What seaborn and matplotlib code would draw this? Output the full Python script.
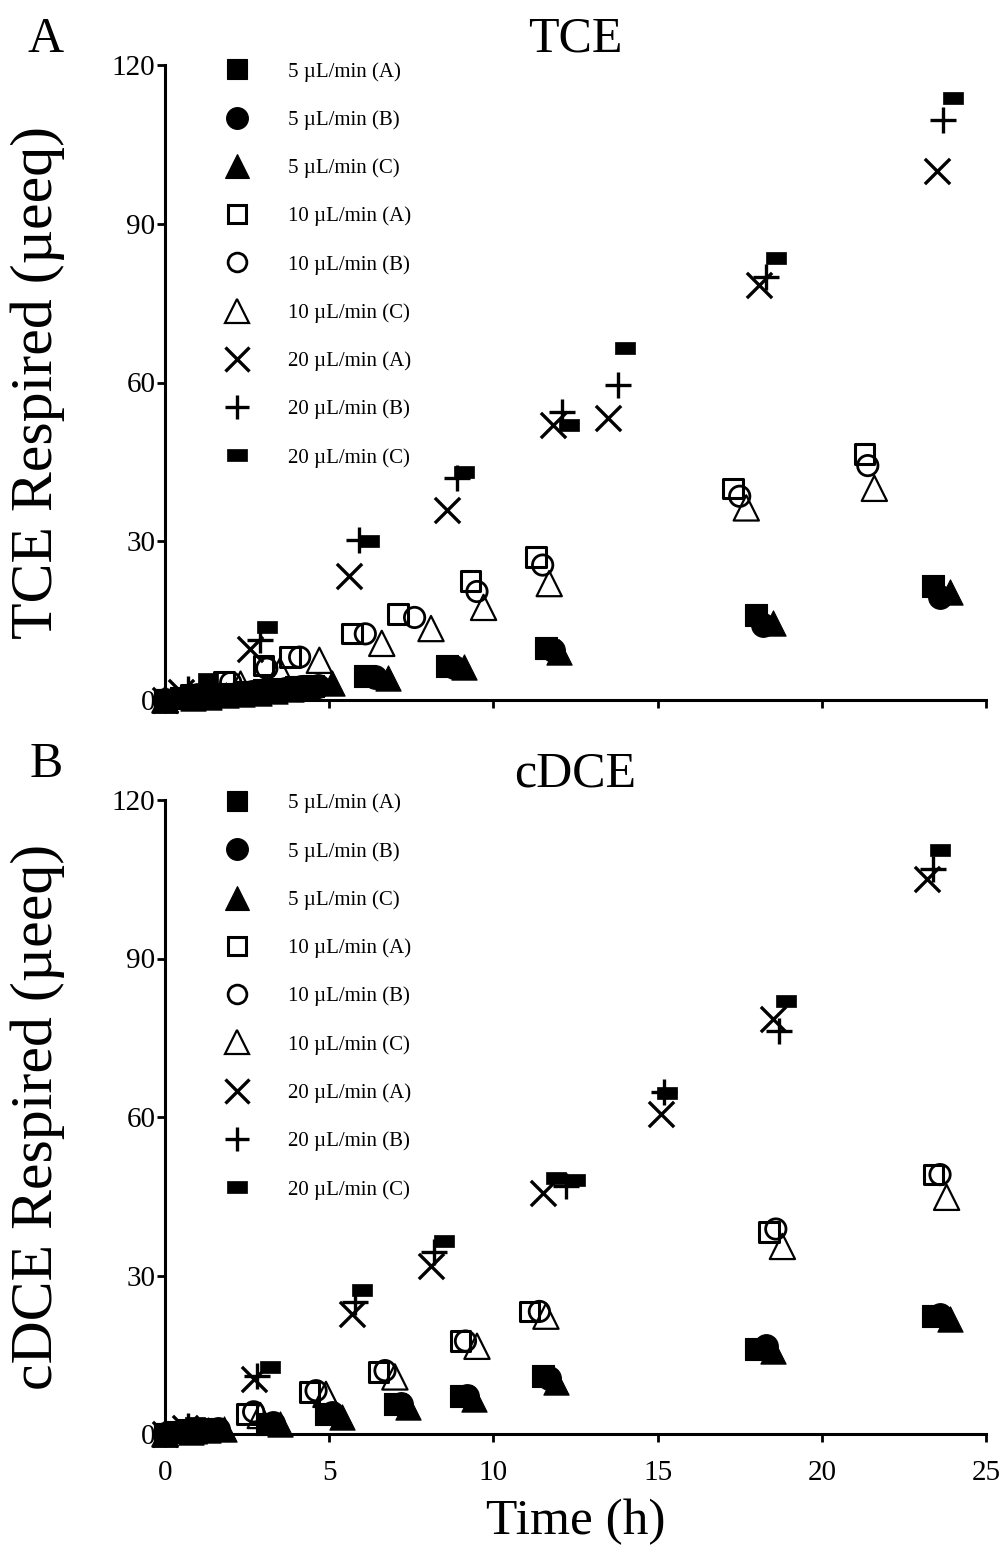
import numpy as np
import matplotlib
matplotlib.use("Agg")
import matplotlib.pyplot as plt
from matplotlib.lines import Line2D
from matplotlib.markers import MarkerStyle
from matplotlib.path import Path
import seaborn as sns

# ---------------- data: TCE (panel A) ----------------
tce_t_5A = [0, 0.5, 1.0, 1.5, 2.0, 2.5, 3.0, 3.5, 4.0, 4.5, 6.1, 8.6, 11.6, 18.0, 23.4]
tce_v_5A = [0, 0.3, 0.6, 0.9, 1.2, 1.5, 1.8, 2.1, 2.4, 2.7, 4.5, 6.5, 9.8, 16.0, 21.5]
tce_t_5B = [0, 0.65, 1.15, 1.65, 2.15, 2.65, 3.15, 3.65, 4.15, 4.65, 6.4, 8.8, 11.8, 18.2, 23.6]
tce_v_5B = [0, 0.3, 0.6, 0.9, 1.2, 1.5, 1.8, 2.1, 2.4, 2.7, 4.4, 6.3, 9.4, 14.2, 19.5]
tce_t_5C = [0, 0.85, 1.35, 1.85, 2.35, 2.85, 3.35, 3.85, 4.35, 5.1, 6.8, 9.1, 12.0, 18.5, 23.9]
tce_v_5C = [0, 0.3, 0.6, 0.9, 1.2, 1.4, 1.7, 2.0, 2.3, 3.2, 4.2, 6.2, 9.0, 14.5, 20.5]

tce_t_10A = [0, 0.8, 1.8, 3.0, 3.8, 5.7, 7.1, 9.3, 11.3, 17.3, 21.3]
tce_v_10A = [0, 1.0, 3.5, 6.5, 8.1, 12.6, 16.2, 22.5, 27.0, 40.0, 46.5]
tce_t_10B = [0, 1.0, 2.0, 3.1, 4.1, 6.1, 7.6, 9.5, 11.5, 17.5, 21.4]
tce_v_10B = [0, 1.0, 3.3, 6.0, 8.1, 12.5, 15.6, 20.5, 25.5, 38.5, 44.3]
tce_t_10C = [0, 1.2, 2.3, 3.5, 4.7, 6.6, 8.1, 9.7, 11.7, 17.7, 21.6]
tce_v_10C = [0, 1.0, 3.0, 5.5, 7.5, 10.7, 13.5, 17.5, 22.0, 36.3, 40.0]

tce_t_20A = [0, 0.5, 2.6, 5.6, 8.6, 11.8, 13.5, 18.1, 23.5]
tce_v_20A = [0, 1.5, 9.6, 23.5, 36.0, 52.0, 53.2, 78.5, 100.0]
tce_t_20B = [0, 0.7, 2.9, 5.9, 8.9, 12.1, 13.8, 18.3, 23.7]
tce_v_20B = [0, 2.0, 11.3, 30.2, 42.0, 54.5, 59.5, 80.0, 109.7]
tce_t_20C = [0, 1.3, 3.1, 6.2, 9.1, 12.3, 14.0, 18.6, 24.0]
tce_v_20C = [0, 4.0, 13.8, 30.0, 43.0, 52.0, 66.5, 83.5, 113.8]

# ---------------- data: cDCE (panel B) ----------------
dce_t_5A = [0, 0.4, 0.9, 1.4, 3.1, 4.9, 7.0, 9.0, 11.5, 18.0, 23.4]
dce_v_5A = [0, 0.3, 0.8, 1.0, 1.9, 3.8, 5.7, 7.2, 11.0, 16.1, 22.3]
dce_t_5B = [0, 0.6, 1.1, 1.6, 3.3, 5.1, 7.2, 9.2, 11.7, 18.3, 23.6]
dce_v_5B = [0, 0.3, 0.8, 1.0, 2.0, 3.9, 5.6, 7.1, 10.6, 16.6, 22.5]
dce_t_5C = [0, 0.8, 1.3, 1.8, 3.5, 5.4, 7.4, 9.4, 11.9, 18.5, 23.9]
dce_v_5C = [0, 0.3, 0.7, 1.0, 1.9, 3.2, 5.1, 6.6, 9.8, 15.7, 21.7]

dce_t_10A = [0, 0.7, 2.5, 4.4, 6.5, 9.0, 11.1, 18.4, 23.4]
dce_v_10A = [0, 0.8, 3.8, 8.0, 11.7, 17.6, 23.2, 38.2, 49.1]
dce_t_10B = [0, 0.8, 2.7, 4.6, 6.7, 9.15, 11.4, 18.6, 23.6]
dce_v_10B = [0, 0.8, 4.2, 8.2, 12.0, 17.6, 23.2, 38.8, 49.1]
dce_t_10C = [0, 0.9, 2.9, 4.9, 7.0, 9.5, 11.6, 18.8, 23.8]
dce_v_10C = [0, 0.6, 3.5, 7.5, 10.8, 16.6, 22.3, 35.5, 44.8]

dce_t_20A = [0, 0.6, 2.7, 5.7, 8.1, 11.5, 15.1, 18.5, 23.2]
dce_v_20A = [0, 1.2, 10.4, 22.7, 31.8, 45.6, 60.5, 78.5, 105.0]
dce_t_20B = [0, 0.7, 2.8, 5.8, 8.2, 12.2, 15.2, 18.7, 23.4]
dce_v_20B = [0, 1.5, 11.0, 25.0, 34.4, 47.0, 64.8, 76.2, 107.0]
dce_t_20C = [0, 0.9, 3.2, 6.0, 8.5, 11.9, 12.5, 15.3, 18.9, 23.6]
dce_v_20C = [0, 2.0, 12.7, 27.2, 36.5, 48.5, 48.0, 64.5, 82.0, 110.5]

labels = ["5 µL/min (A)", "5 µL/min (B)", "5 µL/min (C)",
          "10 µL/min (A)", "10 µL/min (B)", "10 µL/min (C)",
          "20 µL/min (A)", "20 µL/min (B)", "20 µL/min (C)"]
y_ticks = [0, 30, 60, 90, 120]
x_ticks = [0, 5, 10, 15, 20, 25]

# ---------------- styling ----------------
sns.set_theme(style="ticks")
plt.rcParams["font.family"] = ["Liberation Serif", "DejaVu Serif"]
plt.rcParams["axes.linewidth"] = 2.2

rect_marker = MarkerStyle(Path([(-1, -0.6), (1, -0.6), (1, 0.6), (-1, 0.6), (-1, -0.6)],
                               [Path.MOVETO, Path.LINETO, Path.LINETO, Path.LINETO, Path.CLOSEPOLY]))

# style per series: (marker, size, filled?, linewidth)
styles = [
    ("s", 260, True, 0.8),
    ("o", 290, True, 0.8),
    ("^", 330, True, 0.8),
    ("s", 200, False, 2.2),
    ("o", 215, False, 2.0),
    ("^", 330, False, 1.6),
    ("x", 330, None, 2.4),
    ("+", 330, None, 2.4),
    (rect_marker, 225, True, 0.5),
]


def draw_series(ax, t, v, st, z):
    m, s, filled, lw = st
    if filled is True:
        sns.scatterplot(x=t, y=v, ax=ax, marker=m, s=s, color="black",
                        edgecolor="black", linewidth=lw, clip_on=False,
                        zorder=z, legend=False)
    elif filled is False:
        sns.scatterplot(x=t, y=v, ax=ax, marker=m, s=s, facecolors="none",
                        edgecolor="black", linewidth=lw, clip_on=False,
                        zorder=z, legend=False)
    else:
        sns.scatterplot(x=t, y=v, ax=ax, marker=m, s=s, color="black",
                        linewidth=lw, clip_on=False, zorder=z, legend=False)


def legend_handles():
    hs = []
    for (m, s, filled, lw) in styles:
        ms = np.sqrt(s) * 0.92
        if filled is True:
            h = Line2D([], [], ls="none", marker=m, ms=ms, mfc="black", mec="black", mew=lw)
        elif filled is False:
            h = Line2D([], [], ls="none", marker=m, ms=ms, mfc="none", mec="black", mew=lw)
        else:
            h = Line2D([], [], ls="none", marker=m, ms=ms, color="black", mew=lw)
        hs.append(h)
    return hs


fig = plt.figure(figsize=(10.04, 15.53), dpi=100)
W, H = 1004.0, 1553.0
ax1 = fig.add_axes([165 / W, 1 - 700 / H, 821 / W, 635 / H])
ax2 = fig.add_axes([165 / W, 1 - 1434 / H, 821 / W, 634 / H])

tce = [(tce_t_5A, tce_v_5A), (tce_t_5B, tce_v_5B), (tce_t_5C, tce_v_5C),
       (tce_t_10A, tce_v_10A), (tce_t_10B, tce_v_10B), (tce_t_10C, tce_v_10C),
       (tce_t_20A, tce_v_20A), (tce_t_20B, tce_v_20B), (tce_t_20C, tce_v_20C)]
dce = [(dce_t_5A, dce_v_5A), (dce_t_5B, dce_v_5B), (dce_t_5C, dce_v_5C),
       (dce_t_10A, dce_v_10A), (dce_t_10B, dce_v_10B), (dce_t_10C, dce_v_10C),
       (dce_t_20A, dce_v_20A), (dce_t_20B, dce_v_20B), (dce_t_20C, dce_v_20C)]

order = [3, 4, 5, 6, 7, 8, 0, 1, 2]
for ax, data, title, ylab, letter, ly, legy in [
        (ax1, tce, "TCE", "TCE Respired (µeeq)", "A", 40, 1.005),
        (ax2, dce, "cDCE", "cDCE Respired (µeeq)", "B", 765, 1.010)]:
    for k, i in enumerate(order):
        draw_series(ax, data[i][0], data[i][1], styles[i], 3 + k * 0.1)
    ax.set_xlim(0, 25)
    ax.set_ylim(0, 120)
    ax.set_yticks(y_ticks)
    ax.set_xticks(x_ticks)
    sns.despine(ax=ax)
    for sp in ["left", "bottom"]:
        ax.spines[sp].set_color("black")
        ax.spines[sp].set_linewidth(2.2)
    ax.tick_params(axis="both", direction="out", length=6, width=2, color="black",
                   labelsize=21, labelcolor="black")
    ax.tick_params(axis="y", pad=1)
    ax.tick_params(axis="x", pad=13)
    ax.set_title(title, fontsize=36, pad=10, color="black")
    ax.set_ylabel(ylab, fontsize=43, color="black")
    ax.yaxis.label.set_va("center")
    ax.yaxis.set_label_coords(-0.155, 0.5)
    fig.text(46 / W, 1 - ly / H, letter, ha="center", va="center", fontsize=36, color="black")
    leg = ax.legend(legend_handles(), labels, loc="upper left",
                    bbox_to_anchor=(0.070, legy), frameon=False, fontsize=15,
                    borderpad=0, borderaxespad=0, handlelength=1.4,
                    handletextpad=1.75, labelspacing=1.37)
    for txt in leg.get_texts():
        txt.set_color("black")

ax1.set_xticklabels([])
ax1.set_xlabel("")
ax2.set_xlabel("Time (h)", fontsize=37, color="black")
ax2.xaxis.label.set_va("center")
ax2.xaxis.set_label_coords(0.5, -0.139)

fig.savefig("out.png", dpi=100)
